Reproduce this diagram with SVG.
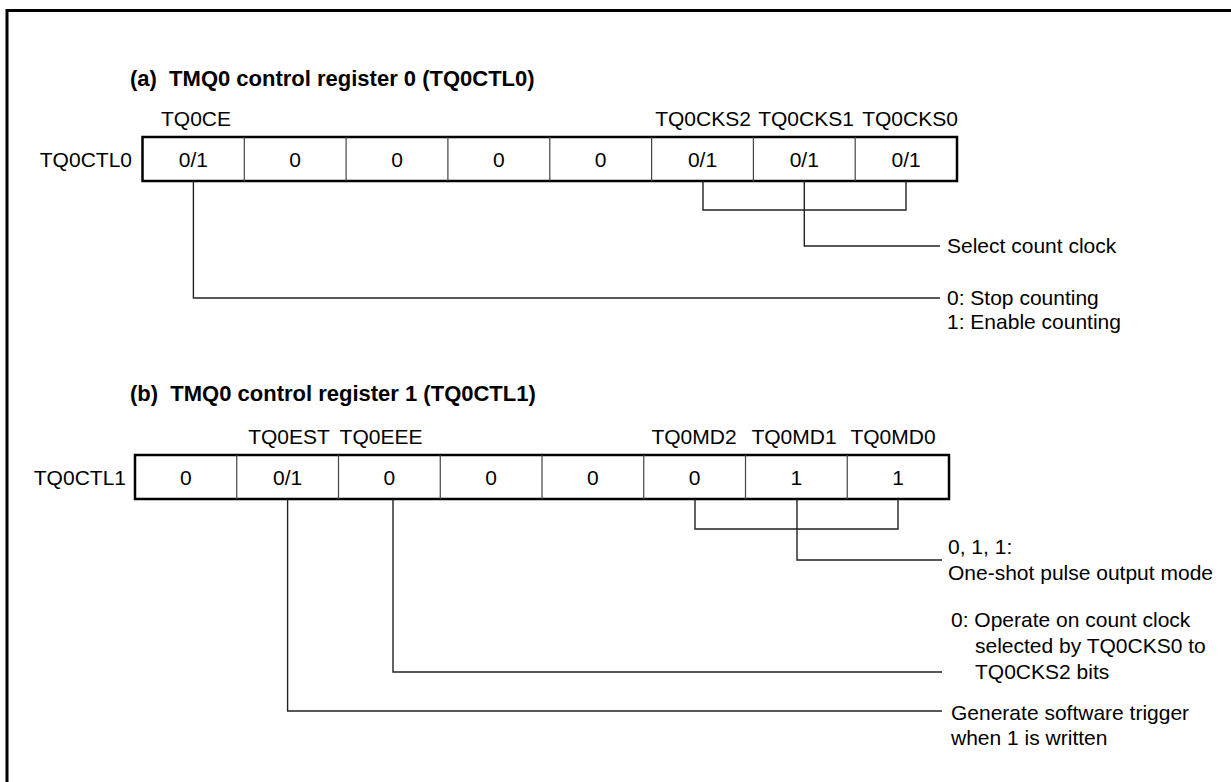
<svg xmlns="http://www.w3.org/2000/svg" width="1231" height="782" viewBox="0 0 1231 782">
<style>
text{font-family:"Liberation Sans",Arial,sans-serif;font-size:21px;fill:#000}
.t{font-weight:bold;font-size:22px}
.c{text-anchor:middle}
.r{text-anchor:end}
.box{fill:#fff;stroke:#000;stroke-width:2.5}
.div{stroke:#444;stroke-width:1.2}
.ln{fill:none;stroke:#222;stroke-width:1.4}
</style>
<rect width="1231" height="782" fill="#fff"/>
<rect x="7" y="10.5" width="1300" height="900" fill="none" stroke="#000" stroke-width="3"/>

<g id="regA">
<text class="t" x="130" y="86" xml:space="preserve">(a)  TMQ0 control register 0 (TQ0CTL0)</text>
<text class="c" x="196" y="126">TQ0CE</text>
<text class="c" x="703" y="126">TQ0CKS2</text>
<text class="c" x="806" y="126">TQ0CKS1</text>
<text class="c" x="910" y="126">TQ0CKS0</text>
<text class="r" x="132" y="167">TQ0CTL0</text>
<rect class="box" x="142.5" y="137" width="814.5" height="44"/>
<path class="div" d="M244.3 137V181M346.1 137V181M447.9 137V181M549.8 137V181M651.6 137V181M753.4 137V181M855.2 137V181"/>
<text class="c" x="193.4" y="167">0/1</text>
<text class="c" x="295.2" y="167">0</text>
<text class="c" x="397" y="167">0</text>
<text class="c" x="498.9" y="167">0</text>
<text class="c" x="600.7" y="167">0</text>
<text class="c" x="702.5" y="167">0/1</text>
<text class="c" x="804.3" y="167">0/1</text>
<text class="c" x="906.1" y="167">0/1</text>
</g>

<g id="descA">
<text x="947" y="253">Select count clock</text>
<text x="947" y="305">0: Stop counting</text>
<text x="947" y="329">1: Enable counting</text>
</g>

<g id="regB">
<text class="t" x="130" y="401" xml:space="preserve">(b)  TMQ0 control register 1 (TQ0CTL1)</text>
<text class="c" x="289" y="444">TQ0EST</text>
<text class="c" x="381" y="444">TQ0EEE</text>
<text class="c" x="694" y="444">TQ0MD2</text>
<text class="c" x="794" y="444">TQ0MD1</text>
<text class="c" x="893" y="444">TQ0MD0</text>
<text class="r" x="126" y="485">TQ0CTL1</text>
<rect class="box" x="135" y="455" width="814" height="44"/>
<path class="div" d="M236.75 455V499M338.5 455V499M440.25 455V499M542 455V499M643.75 455V499M745.5 455V499M847.25 455V499"/>
<text class="c" x="185.9" y="485">0</text>
<text class="c" x="287.6" y="485">0/1</text>
<text class="c" x="389.4" y="485">0</text>
<text class="c" x="491.1" y="485">0</text>
<text class="c" x="592.9" y="485">0</text>
<text class="c" x="694.6" y="485">0</text>
<text class="c" x="796.4" y="485">1</text>
<text class="c" x="898.1" y="485">1</text>
</g>

<g id="descB">
<text x="948" y="554">0, 1, 1:</text>
<text x="948" y="580">One-shot pulse output mode</text>
<text x="951" y="627">0: Operate on count clock</text>
<text x="975" y="653">selected by TQ0CKS0 to</text>
<text x="975" y="679">TQ0CKS2 bits</text>
<text x="951" y="720">Generate software trigger</text>
<text x="951" y="745">when 1 is written</text>
</g>

<g id="connectors">
<path class="ln" d="M703 181V210H906V181M804.3 181V246H940"/>
<path class="ln" d="M193.4 181V298H940"/>
<path class="ln" d="M695 499V529H898V499M797 499V560H942"/>
<path class="ln" d="M393 499V672H942"/>
<path class="ln" d="M287.6 499V711H942"/>
</g>
</svg>
